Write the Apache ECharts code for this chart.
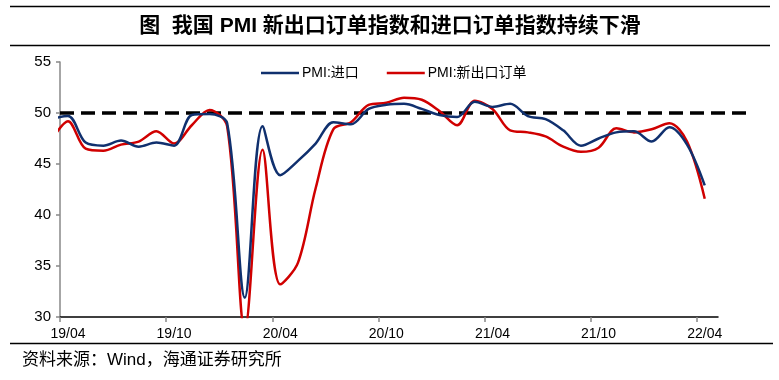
<!DOCTYPE html>
<html>
<head>
<meta charset="utf-8">
<script src="https://cdn.jsdelivr.net/npm/echarts@6/dist/echarts.min.js"></script>
<style>
html,body{margin:0;padding:0;background:#fff;}
#chart{width:779px;height:380px;}
</style>
</head>
<body>
<div id="chart"></div>
<script>
// Months (2019/03 is partly hidden at the left edge of the plot)
const months = ['2019/03','2019/04','2019/05','2019/06','2019/07','2019/08','2019/09','2019/10','2019/11','2019/12',
  '2020/01','2020/02','2020/03','2020/04','2020/05','2020/06','2020/07','2020/08','2020/09','2020/10','2020/11','2020/12',
  '2021/01','2021/02','2021/03','2021/04','2021/05','2021/06','2021/07','2021/08','2021/09','2021/10','2021/11','2021/12',
  '2022/01','2022/02','2022/03','2022/04'];
// PMI: 进口
const importIndex = [49.4, 49.7, 47.1, 46.8, 47.3, 46.7, 47.1, 46.8, 49.8, 49.9,
  49.0, 31.9, 48.7, 43.9, 45.3, 47.0, 49.1, 48.9, 50.4, 50.8, 50.9, 50.4,
  49.8, 49.6, 51.1, 50.6, 50.9, 49.7, 49.4, 48.3, 46.8, 47.5, 48.1, 48.2,
  47.2, 48.6, 46.9, 42.9];
// PMI: 新出口订单
const exportIndex = [47.1, 49.2, 46.5, 46.3, 46.9, 47.2, 48.2, 47.0, 48.8, 50.3,
  48.7, 28.7, 46.4, 33.2, 35.3, 42.6, 48.4, 49.1, 50.8, 51.0, 51.5, 51.3,
  50.2, 48.8, 51.2, 50.4, 48.3, 48.1, 47.7, 46.7, 46.2, 46.6, 48.5, 48.1,
  48.4, 49.0, 47.2, 41.6];
const tickLabels = ['19/04','19/10','20/04','20/10','21/04','21/10','22/04'];
const referenceLevel = 50;
const seriesNames = ['PMI:进口', 'PMI:新出口订单'];
const titleText = '图  我国 PMI 新出口订单指数和进口订单指数持续下滑';
const sourceText = '资料来源：Wind，海通证券研究所';

// month offset: axis 0 = start of 2019/04, points sit mid-month
const startIdx = months.indexOf('2019/04');
const midMonth = 0.45;
const toPoints = arr => arr.map((v, i) => [i - startIdx + midMonth, v]);
const tickPos = tickLabels.map((t, k) => k * 6);
const labelPos = tickLabels.map((t, k) => k * 6 + midMonth);

const chart = echarts.init(document.getElementById('chart'));
const latin = 'Liberation Sans, Arial, sans-serif';
const cjk = '"Liberation Sans", "Noto Sans CJK SC", sans-serif';

chart.setOption({
  animation: false,
  backgroundColor: '#fff',
  grid: [
    {left: 60, right: 61, top: 62, bottom: 63, containLabel: false},
    {left: 60, right: 27, top: 62, bottom: 63, containLabel: false}
  ],
  legend: {
    data: seriesNames,
    left: 256, top: 61,
    icon: 'rect', itemWidth: 38, itemHeight: 2.5, itemGap: 28,
    textStyle: {fontFamily: cjk, fontSize: 14, color: '#000', padding: [0,0,0,-2]}
  },
  xAxis: [{
    type: 'value', gridIndex: 0, min: 0, max: 37.2,
    splitLine: {show: false},
    axisLine: {show: true, onZero: false, lineStyle: {color: '#000', width: 1.5}},
    axisTick: {show: true, customValues: tickPos, length: 5, lineStyle: {color: '#888', width: 1.5}},
    axisLabel: {
      customValues: labelPos, margin: 10, fontFamily: latin, fontSize: 14, color: '#000',
      formatter: v => tickLabels[Math.round((v - midMonth) / 6)] || ''
    }
  }, {
    type: 'value', gridIndex: 1, min: 0, max: 1, show: false
  }],
  yAxis: [{
    type: 'value', gridIndex: 0, min: 30, max: 55, interval: 5,
    splitLine: {show: false},
    axisLine: {show: true, lineStyle: {color: '#888', width: 1.5}},
    axisTick: {show: true, length: 4, lineStyle: {color: '#888', width: 1.5}},
    axisLabel: {margin: 9, fontFamily: latin, fontSize: 15, color: '#000'}
  }, {
    type: 'value', gridIndex: 1, min: 30, max: 55, show: false
  }],
  series: [{
    name: 'ref', type: 'line', xAxisIndex: 1, yAxisIndex: 1,
    data: [[0, referenceLevel], [1, referenceLevel]],
    symbol: 'none', silent: true, z: 1,
    lineStyle: {color: '#000', width: 3.5, type: [14, 7]}
  }, {
    name: seriesNames[0], type: 'line', data: toPoints(importIndex),
    symbol: 'none', smooth: 0.33, clip: true, z: 3,
    color: '#10306E', lineStyle: {color: '#10306E', width: 2.5}
  }, {
    name: seriesNames[1], type: 'line', data: toPoints(exportIndex),
    symbol: 'none', smooth: 0.33, clip: true, z: 2,
    color: '#D00000', lineStyle: {color: '#D00000', width: 2.5}
  }],
  graphic: [
    {type: 'line', shape: {x1: 10, y1: 6.5, x2: 770, y2: 6.5}, style: {stroke: '#000', lineWidth: 1.5}},
    {type: 'line', shape: {x1: 10, y1: 45.5, x2: 770, y2: 45.5}, style: {stroke: '#000', lineWidth: 1.5}},
    {type: 'text', x: 390, y: 26, style: {text: titleText, fontFamily: cjk, fontSize: 21, fontWeight: 'bold', fill: '#000', align: 'center', verticalAlign: 'middle'}},
    {type: 'line', shape: {x1: 10, y1: 343.5, x2: 773, y2: 343.5}, style: {stroke: '#000', lineWidth: 1.5}},
    {type: 'text', x: 22, y: 360, style: {text: sourceText, fontFamily: cjk, fontSize: 17, fill: '#000', align: 'left', verticalAlign: 'middle'}}
  ]
});
</script>
</body>
</html>
